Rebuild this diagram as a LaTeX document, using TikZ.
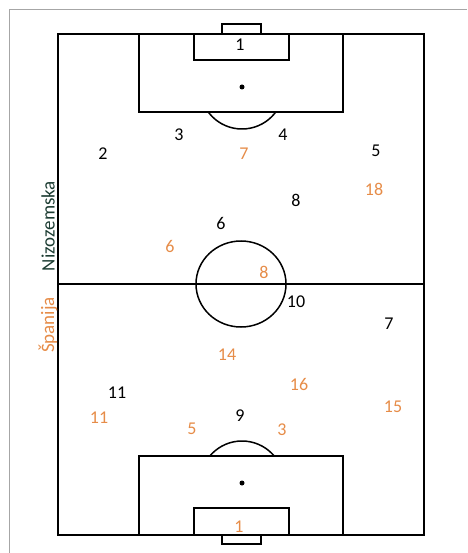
\documentclass[tikz,border=0pt]{standalone}
\usepackage{fontspec}
\setmainfont{Carlito}
\usepackage{tikz}
\usetikzlibrary{positioning}
\definecolor{nlgreen}{RGB}{28,60,50}
\definecolor{esorange}{RGB}{230,140,72}

\begin{document}
\begin{tikzpicture}[x=1pt, y=-1pt,
                line/.style={draw, line width=1.5pt},
                nl/.style={font=\fontsize{18}{20}\selectfont, text=black, inner sep=0pt},
                es/.style={font=\fontsize{18}{20}\selectfont, text=esorange, inner sep=0pt},
                team/.style={rotate=90, font=\fontsize{19}{21}\selectfont, inner sep=0pt}]
                \useasboundingbox (0,0) rectangle (467,553);
                \draw[gray!70, line width=0.8pt] (9,553) -- (9,9) -- (467,9);

                % pitch
                \draw[line] (58,34) rectangle (424,535);
                \draw[line] (58,284) -- (424,284);
                \draw[line] (241,284) ellipse [x radius=45, y radius=43];

                % upper half
                \draw[line] (139,34) rectangle (343,112);
                \draw[line] (194,34) rectangle (289,60);
                \draw[line] (222,24) rectangle (261,34);
                \fill (242,87) circle (2.5);
                \begin{scope}
                  \clip (58,112) rectangle (424,200);
                  \draw[line] (242,87) circle (42);
                \end{scope}

                % lower half
                \draw[line] (139,456) rectangle (343,535);
                \draw[line] (194,508) rectangle (289,535);
                \draw[line] (222,535) rectangle (261,544);
                \fill (242,483) circle (2.5);
                \begin{scope}
                  \clip (58,380) rectangle (424,456);
                  \draw[line] (242,483) circle (42);
                \end{scope}

                % teams
                \node[team, text=nlgreen] (nizozemska) at (48,226) {Nizozemska};
                \node[team, text=esorange] (spanija) at (48,325) {Španija};

                % Nizozemska
                \node[nl] (nl1) at (240,45) {1};
                \node[nl] (nl2) at (103,154) {2};
                \node[nl] (nl3) at (179,135) {3};
                \node[nl] (nl4) at (283,135) {4};
                \node[nl] (nl5) at (376,151) {5};
                \node[nl] (nl6) at (221,223) {6};
                \node[nl] (nl7) at (389,324) {7};
                \node[nl] (nl8) at (296,200) {8};
                \node[nl] (nl9) at (240,416) {9};
                \node[nl] (nl10) at (296,302) {10};
                \node[nl] (nl11) at (117,393) {11};

                % Španija
                \node[es] (es1) at (239,527) {1};
                \node[es] (es3) at (282,430) {3};
                \node[es] (es5) at (192,429) {5};
                \node[es] (es6) at (170,246) {6};
                \node[es] (es7) at (244,154) {7};
                \node[es] (es8) at (264,272) {8};
                \node[es] (es11) at (99,418) {11};
                \node[es] (es14) at (227,355) {14};
                \node[es] (es15) at (393,407) {15};
                \node[es] (es16) at (299,384) {16};
                \node[es] (es18) at (374,189) {18};
\end{tikzpicture}
\end{document}
